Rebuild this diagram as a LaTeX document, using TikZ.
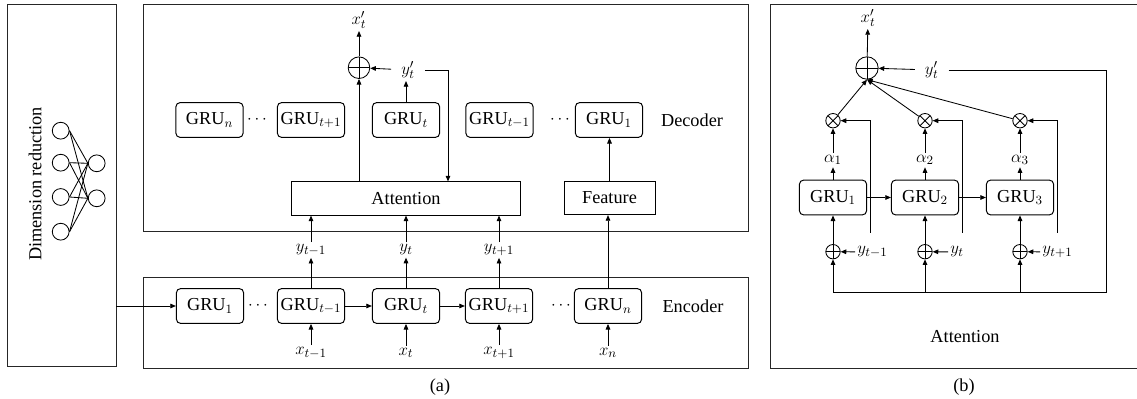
\documentclass[tikz,border=0pt]{standalone}
\usepackage{fontspec}
\setmainfont{Liberation Serif}
\usetikzlibrary{arrows.meta,positioning}

\begin{document}
\begin{tikzpicture}[
    x=0.025cm, y=-0.025cm,
    font=\fontsize{13}{15}\selectfont,
    % Stili per i blocchi
    gru/.style={
        rectangle,
        draw,
        rounded corners=3pt,
        line width=0.7pt,
        minimum width=1.68cm,
        minimum height=0.87cm,
        inner sep=0pt
    },
    block/.style={
        rectangle,
        draw,
        line width=0.7pt,
        minimum height=0.83cm,
        inner sep=0pt
    },
    panel/.style={line width=0.6pt, draw=black!85},
    % Stili per somma e prodotto
    oplus/.style={
        circle, draw, line width=0.6pt, minimum size=#1, inner sep=0pt,
        path picture={\draw[line width=0.6pt]
            (path picture bounding box.north) -- (path picture bounding box.south)
            (path picture bounding box.west) -- (path picture bounding box.east);}
    },
    otimes/.style={
        circle, draw, line width=0.6pt, minimum size=#1, inner sep=0pt,
        path picture={\draw[line width=0.6pt]
            (path picture bounding box.north west) -- (path picture bounding box.south east)
            (path picture bounding box.south west) -- (path picture bounding box.north east);}
    },
    neuron/.style={circle, draw, line width=0.6pt, minimum size=0.42cm, inner sep=0pt},
    % Stili per le frecce
    arr/.style={-{Triangle[length=4pt,width=3.3pt]}, line width=0.6pt},
    conn/.style={line width=0.6pt},
    % Stili per le etichette
    lbl/.style={inner sep=1.5pt}
]
\useasboundingbox (0,0) rectangle (1137,399);

% RIDUZIONE DIMENSIONALE
\node[draw, panel, minimum width=2.725cm, minimum height=9.05cm] (dimbox) at (61.5,185) {};
\node[rotate=90] (dimtext) at (35,184) {Dimension reduction};
\foreach \i/\y in {1/130.7, 2/162.7, 3/197, 4/231.7} {
    \node[neuron] (nin\i) at (60.7,\y) {};
}
\foreach \j/\y in {1/163.3, 2/198.3} {
    \node[neuron] (nout\j) at (96.7,\y) {};
}
\foreach \i in {1,...,4} {
    \foreach \j in {1,2} {
        \draw[conn] (nin\i.east) -- (nout\j.west);
    }
}

% Cornici di encoder, decoder e pannello (b)
\draw[panel] (143,4) rectangle (748,231);
\draw[panel] (143,277) rectangle (748,368);
\draw[panel] (1137,4) -- (770,4) -- (770,368) -- (1137,368);

% ENCODER
\node[gru] (ge1) at (210,306) {GRU$_1$};
\node[gru] (getm) at (311,306) {GRU$_{t-1}$};
\node[gru] (get) at (406,306) {GRU$_t$};
\node[gru] (getp) at (499,306) {GRU$_{t+1}$};
\node[gru] (gen) at (608,306) {GRU$_n$};
\node (edots1) at (258,306) {$\cdots$};
\node (edots2) at (561,306) {$\cdots$};
\node (enclab) at (693,306) {Encoder};

\draw[arr] (dimbox.east |- ge1) -- (ge1);
\draw[arr] (getm) -- (get);
\draw[arr] (get) -- (getp);

% DECODER
\node[block, minimum width=5.7cm] (att) at (406,198.5) {Attention};
\node[block, minimum width=2.275cm] (feat) at (609.5,198) {Feature};
\node[gru] (gdn) at (209.5,120) {GRU$_n$};
\node[gru] (gdtp) at (311,120) {GRU$_{t+1}$};
\node[gru] (gdt) at (406,120) {GRU$_t$};
\node[gru] (gdtm) at (499.5,120) {GRU$_{t-1}$};
\node[gru] (gd1) at (609,120) {GRU$_1$};
\node (ddots1) at (257,120) {$\cdots$};
\node (ddots2) at (560,120) {$\cdots$};
\node (declab) at (692,120) {Decoder};

% Ingressi e uscite dell'encoder
\foreach \g/\s in {getm/{t-1}, get/t, getp/{t+1}, gen/n} {
    \node[lbl] (x\g) at (\g |- 0,353) {$x_{\s}$};
    \draw[arr] (x\g) -- (\g);
}
\foreach \g/\s in {getm/{t-1}, get/t, getp/{t+1}} {
    \node[lbl] (y\g) at (\g |- 0,250) {$y_{\s}$};
    \draw[arr] (\g) -- (y\g);
    \draw[arr] (y\g) -- (y\g |- att.south);
}
\draw[arr] (gen) -- (gen |- feat.south);
\draw[arr] (feat) -- (feat |- gd1.south);

% Somma finale del decoder
\node[oplus=0.54cm] (osum) at (359,67.7) {};
\node[lbl] (xout) at (359,20) {$x'_t$};
\node[lbl, inner xsep=7pt] (yout) at (408,70) {$y'_t$};
\coordinate (yturn) at (448,69);
\draw[arr] (osum) -- (xout);
\draw[arr] (osum |- att.north) -- (osum);
\draw[arr] (gdt) -- (gdt |- yout.south);
\draw[arr] (yout) -- (osum);
\draw[arr] (yout.east) -- (yout.east -| yturn) -- (yturn |- att.north);

% ATTENTION (b)
\node[oplus=0.56cm] (bsum) at (867,68) {};
\node[lbl] (bxout) at (868,18) {$x'_t$};
\node[lbl, inner xsep=7pt] (byout) at (931.7,70) {$y'_t$};
\coordinate (bturn) at (1106,292.7);
\draw[arr] (bsum) -- (bxout);
\draw[arr] (byout) -- (bsum);
\draw[conn] (byout.east) -| (bturn) -- (bturn -| 833,0);

\foreach \k/\x in {1/833, 2/925, 3/1020} {
    \node[gru] (bg\k) at (\x,197.5) {GRU$_\k$};
    \node[lbl] (ba\k) at (\x,160) {$\alpha_\k$};
    \node[otimes=0.36cm] (bm\k) at (\x,120.7) {};
    \node[oplus=0.36cm] (bs\k) at (\x,251.7) {};
    \coordinate (bv\k) at (\x+37,233);
    \draw[arr] (bg\k) -- (ba\k);
    \draw[arr] (ba\k) -- (bm\k);
    \draw[arr] (bs\k) -- (bg\k);
    \draw[arr] (bm\k) -- (bsum.south);
    \draw[arr] (bv\k) |- (bm\k);
    \draw[arr] (bturn -| bs\k) -- (bs\k);
}
\draw[arr] (bg1) -- (bg2);
\draw[arr] (bg2) -- (bg3);

\node[lbl, anchor=west] (by1) at (855,252) {$y_{t-1}$};
\node[lbl, anchor=west] (by2) at (948,252) {$y_t$};
\node[lbl, anchor=west] (by3) at (1040,252) {$y_{t+1}$};
\foreach \k in {1,2,3} {
    \draw[arr] (by\k) -- (bs\k);
}

\node (battlab) at (965,337) {Attention};

% Didascalie
\node (capa) at (440,387) {(a)};
\node (capb) at (964,387) {(b)};

\end{tikzpicture}
\end{document}
